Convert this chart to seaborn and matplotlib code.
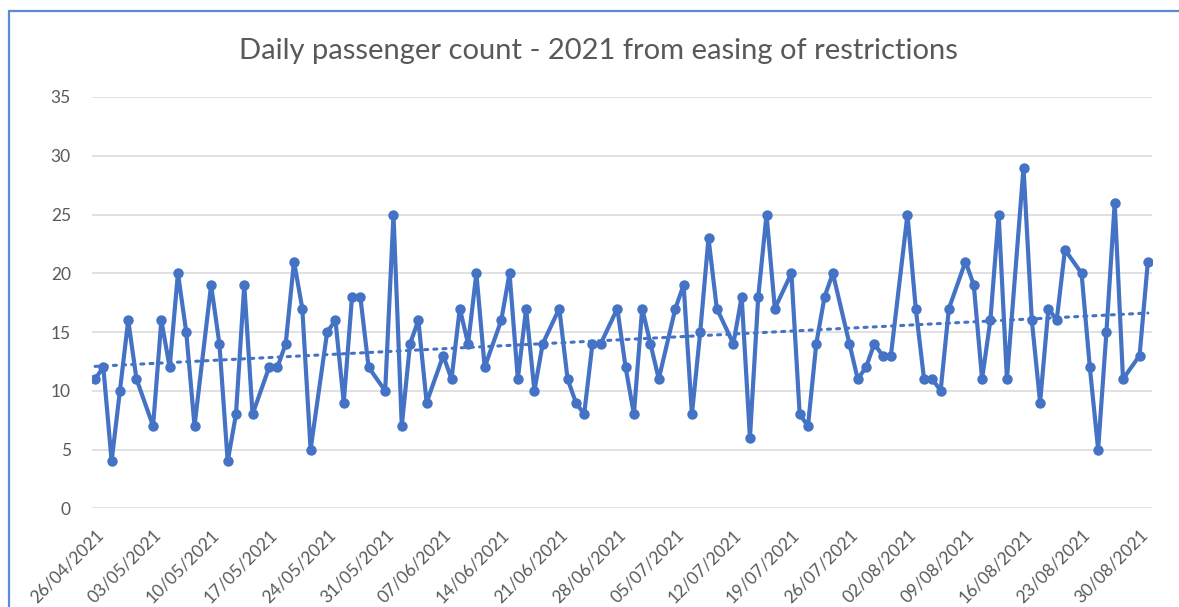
"""
Daily passenger count chart (Excel-style line + linear trend), redrawn with seaborn.
Run:  python plot.py   ->  out.png
"""

import pandas as pd
import matplotlib
matplotlib.use('Agg')
import matplotlib.pyplot as plt
import matplotlib.dates as mdates
from matplotlib.lines import Line2D
import seaborn as sns

# ── Data ─────────────────────────────────────────────────────────────────────
TITLE = "Daily passenger count - 2021 from easing of restrictions"

FIRST_DAY    = "2021-04-26"
LAST_DAY     = "2021-08-31"
SERVICE_DAYS = "Mon Tue Wed Thu Fri Sat"     # no service on Sundays

# one row per week (Mon..Sat)
passengers = [
    11, 12,  4, 10, 16, 11,
     7, 16, 12, 20, 15,  7,
    19, 14,  4,  8, 19,  8,
    12, 12, 14, 21, 17,  5,
    15, 16,  9, 18, 18, 12,
    10, 25,  7, 14, 16,  9,
    13, 11, 17, 14, 20, 12,
    16, 20, 11, 17, 10, 14,
    17, 11,  9,  8, 14, 14,
    17, 12,  8, 17, 14, 11,
    17, 19,  8, 15, 23, 17,
    14, 18,  6, 18, 25, 17,
    20,  8,  7, 14, 18, 20,
    14, 11, 12, 14, 13, 13,
    25, 17, 11, 11, 10, 17,
    21, 19, 11, 16, 25, 11,
    29, 16,  9, 17, 16, 22,
    20, 12,  5, 15, 26, 11,
    13, 21,
]

tick_labels = [
    "26/04/2021", "03/05/2021", "10/05/2021", "17/05/2021", "24/05/2021",
    "31/05/2021", "07/06/2021", "14/06/2021", "21/06/2021", "28/06/2021",
    "05/07/2021", "12/07/2021", "19/07/2021", "26/07/2021", "02/08/2021",
    "09/08/2021", "16/08/2021", "23/08/2021", "30/08/2021",
]
y_ticks = [0, 5, 10, 15, 20, 25, 30, 35]

# ── Styling ──────────────────────────────────────────────────────────────────
BLUE  = '#4472C4'
TEXT  = '#595959'
GRID  = '#D9D9D9'
FRAME = '#5B8BD0'

dates = pd.bdate_range(FIRST_DAY, LAST_DAY, freq='C', weekmask=SERVICE_DAYS)
df = pd.DataFrame({'date': dates[:len(passengers)], 'passengers': passengers})
df['x'] = mdates.date2num(df['date'])

sns.set_theme(style='white')
plt.rcParams['font.family'] = ['Lato', 'DejaVu Sans']

fig = plt.figure(figsize=(11.79, 6.07), dpi=100)
ax = fig.add_axes([0.0778, 0.1626, 0.8991, 0.6776])

# linear trendline (dotted), then the series itself
sns.regplot(data=df, x='x', y='passengers', ax=ax, scatter=False, ci=None,
            truncate=True,
            line_kws=dict(color=BLUE, lw=2.2, ls=(0, (1.0, 2.0)),
                          dash_capstyle='round', zorder=3))
sns.lineplot(data=df, x='x', y='passengers', ax=ax, color=BLUE, lw=3.0,
             marker='o', markersize=7.5, markeredgewidth=0, zorder=4)

# axes
ax.set_xlim(df['x'].iloc[0] - 0.4, df['x'].iloc[-1] + 0.47)
ax.set_ylim(0, 35)
ax.set_yticks(y_ticks)
tick_pos = mdates.date2num(pd.to_datetime(tick_labels, format='%d/%m/%Y'))
ax.set_xticks(tick_pos)
ax.set_xticklabels(tick_labels, rotation=45, ha='right', rotation_mode='anchor')
ax.set_xlabel('')
ax.set_ylabel('')

ax.yaxis.grid(True, color=GRID, lw=1.1)
ax.xaxis.grid(False)
for s in ax.spines.values():
    s.set_visible(False)
ax.tick_params(axis='both', length=0, colors=TEXT, labelsize=12.5)
ax.tick_params(axis='y', pad=15)
ax.tick_params(axis='x', pad=13)

fig.text(0.508, 0.916, TITLE, ha='center', va='center',
         fontsize=21, color=TEXT)

# chart frame (left + top edge visible in the original crop)
fx, fy = 8.5 / 1179, 1 - 11 / 607
fig.add_artist(Line2D([fx, fx], [0, fy], color=FRAME, lw=1.6,
                      transform=fig.transFigure))
fig.add_artist(Line2D([fx, 1], [fy, fy], color=FRAME, lw=1.6,
                      transform=fig.transFigure))

fig.savefig('out.png', dpi=100)
print("saved out.png")
